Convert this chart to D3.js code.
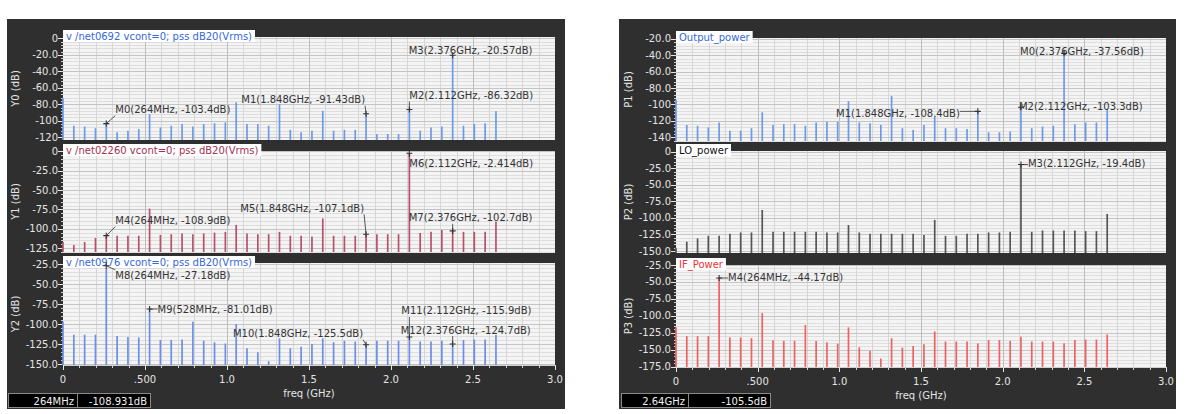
<!DOCTYPE html>
<html>
<head>
<meta charset="utf-8">
<script src="https://cdn.jsdelivr.net/npm/d3@7"></script>
<style>
body { margin: 0; background: #fff; }
svg text { font-family: "DejaVu Sans", sans-serif; }
</style>
</head>
<body>
<svg id="chart" width="1190" height="414"></svg>
<script>
// harmonic grid in GHz (66 MHz steps, DC .. 2.64 GHz)
var freqs = [0, 0.066, 0.132, 0.198, 0.264, 0.33, 0.396, 0.462, 0.528, 0.594,
    0.66, 0.726, 0.792, 0.858, 0.924, 0.99, 1.056, 1.122, 1.188, 1.254,
    1.32, 1.386, 1.452, 1.518, 1.584, 1.65, 1.716, 1.782, 1.848, 1.914,
    1.98, 2.046, 2.112, 2.178, 2.244, 2.31, 2.376, 2.442, 2.508, 2.574, 2.64];

// left window: pss dB20(Vrms)
var y0Values = [-72.7, -106, -107, -109, -103.4, -114, -112, -110, -92, -108,
    -106, -104, -107, -104, -103, -102, -77.6, -104, -104, -106,
    -80, -111, -114, -112, -88, -112, -111, -111, -91.43, -116,
    -116, -116, -86.32, -112, -108, -107, -20.57, -106, -104, -103, -88];
var y1Values = [-117, -121, -117, -112, -108.9, -109, -109, -109, -74, -108,
    -107, -106, -107, -106, -105, -104, -95, -106, -107, -107,
    -104, -109, -109, -110, -86.7, -109, -109, -109, -107.1, -107,
    -107, -107, -2.414, -105.5, -104, -101.7, -102.7, -104, -104, -104, -91];
var y2Values = [-96.8, -113, -113, -113, -27.18, -114.6, -116, -116.5, -81.01, -119.6,
    -119.6, -119, -96.8, -120.5, -122.5, -124, -99.7, -130, -135, -146,
    -117.6, -130, -128, -124.6, -117.6, -122.5, -120.5, -121.5, -125.5, -120.5,
    -120.5, -120.5, -115.9, -121.5, -121.5, -120.5, -124.7, -119.6, -119, -119, -113.4];

// right window: powers
var p1Values = [-94, -125, -126, -128, -122, -132, -132, -129, -109.5, -125,
    -124, -124, -126, -122, -121, -121, -96, -122, -123, -125,
    -89.6, -129, -131, -125, -115, -129, -129, -130, -108.4, -134,
    -134, -133, -103.3, -129, -127, -126, -37.56, -124, -122, -122, -105.5];
var p2Values = [-145, -136, -131, -127, -127, -124, -122, -122, -88, -121,
    -121, -121, -121, -121, -122, -122, -110.7, -122, -124, -124,
    -124, -124, -124, -126, -103, -127, -127, -124, -124, -122,
    -122, -121, -19.4, -121, -119, -119, -119, -119, -120, -120, -94];
var p3Values = [-117, -130, -130, -130, -44.17, -132, -132, -133, -96, -136,
    -137, -137, -113.6, -137, -139, -141, -117, -146.5, -152, -163,
    -133, -147, -144.5, -142, -123, -138, -138, -138, -140.6, -135.7,
    -135.7, -137, -131, -138, -138, -138, -140.6, -135.7, -135, -135, -127.5];

// y tick values and their labels
var y0Ticks = [0, -20, -40, -60, -80, -100, -120];
var y0TickLabels = ["0", "-20.0", "-40.0", "-60.0", "-80.0", "-100", "-120"];
var y1Ticks = [0, -25, -50, -75, -100, -125];
var y1TickLabels = ["0", "-25.0", "-50.0", "-75.0", "-100.0", "-125.0"];
var y2Ticks = [-25, -50, -75, -100, -125, -150];
var y2TickLabels = ["-25.0", "-50.0", "-75.0", "-100.0", "-125.0", "-150.0"];
var p1Ticks = [-20, -40, -60, -80, -100, -120, -140];
var p1TickLabels = ["-20.0", "-40.0", "-60.0", "-80.0", "-100", "-120", "-140"];
var p2Ticks = [0, -25, -50, -75, -100, -125, -150];
var p2TickLabels = ["0", "-25.0", "-50.0", "-75.0", "-100.0", "-125.0", "-150.0"];
var p3Ticks = [-25, -50, -75, -100, -125, -150, -175];
var p3TickLabels = ["-25.0", "-50.0", "-75.0", "-100.0", "-125.0", "-150.0", "-175.0"];

var xTicks = [0, 0.5, 1.0, 1.5, 2.0, 2.5, 3.0];
var xTickLabels = ["0", ".500", "1.0", "1.5", "2.0", "2.5", "3.0"];

// markers
var y0MarkerNames = ["M0", "M1", "M2", "M3"];
var y0MarkerFreqs = [0.264, 1.848, 2.112, 2.376];
var y0MarkerValues = [-103.4, -91.43, -86.32, -20.57];
var y1MarkerNames = ["M4", "M5", "M6", "M7"];
var y1MarkerFreqs = [0.264, 1.848, 2.112, 2.376];
var y1MarkerValues = [-108.9, -107.1, -2.414, -102.7];
var y2MarkerNames = ["M8", "M9", "M10", "M11", "M12"];
var y2MarkerFreqs = [0.264, 0.528, 1.848, 2.112, 2.376];
var y2MarkerValues = [-27.18, -81.01, -125.5, -115.9, -124.7];
var p1MarkerNames = ["M0", "M1", "M2"];
var p1MarkerFreqs = [2.376, 1.848, 2.112];
var p1MarkerValues = [-37.56, -108.4, -103.3];
var p2MarkerNames = ["M3"];
var p2MarkerFreqs = [2.112];
var p2MarkerValues = [-19.4];
var p3MarkerNames = ["M4"];
var p3MarkerFreqs = [0.264];
var p3MarkerValues = [-44.17];

// label placement relative to the marked point (pixels)
var labelLayout = {
    "Y0:M0": { dx: 9, dy: -14, anchor: "start" },
    "Y0:M1": { dx: -1, dy: -14, anchor: "end" },
    "Y0:M2": { dx: 0, dy: -14, anchor: "start" },
    "Y0:M3": { dx: -44, dy: -5, anchor: "start" },
    "Y1:M4": { dx: 9, dy: -15, anchor: "start" },
    "Y1:M5": { dx: -2, dy: -26, anchor: "end" },
    "Y1:M6": { dx: 0, dy: 10, anchor: "start" },
    "Y1:M7": { dx: -44, dy: -13, anchor: "start" },
    "Y2:M8": { dx: 9, dy: 10, anchor: "start" },
    "Y2:M9": { dx: 8, dy: 1, anchor: "start" },
    "Y2:M10": { dx: -3, dy: -11, anchor: "end" },
    "Y2:M11": { dx: -8, dy: -26, anchor: "start" },
    "Y2:M12": { dx: -52, dy: -14, anchor: "start" },
    "P1:M0": { dx: -44, dy: -2, anchor: "start" },
    "P1:M1": { dx: -18, dy: 2, anchor: "end" },
    "P1:M2": { dx: -2, dy: -1, anchor: "start" },
    "P2:M3": { dx: 7, dy: -1, anchor: "start" },
    "P3:M4": { dx: 9, dy: 0, anchor: "start" }
};

function makePlot(id, title, titleColor, color, values, ticks, tickLabels, names, mfreqs, mvalues) {
    return { id: id, title: title, titleColor: titleColor, color: color, values: values,
        ticks: ticks, tickLabels: tickLabels,
        markers: names.map(function (n, i) { return { name: n, f: mfreqs[i], v: mvalues[i] }; }) };
}

var panels = [
    {
        frame: [7, 19, 565, 409], x0: 63, x1: 555, yLabelX: 19,
        status: ["264MHz", "-108.931dB"], statusEdges: [8, 77, 150],
        plots: [
            makePlot("Y0", "v /net0692 vcont=0; pss dB20(Vrms)", "#3468dc", "#6b9be8", y0Values, y0Ticks, y0TickLabels, y0MarkerNames, y0MarkerFreqs, y0MarkerValues),
            makePlot("Y1", "v /net02260 vcont=0; pss dB20(Vrms)", "#a3304f", "#b8506c", y1Values, y1Ticks, y1TickLabels, y1MarkerNames, y1MarkerFreqs, y1MarkerValues),
            makePlot("Y2", "v /net0976 vcont=0; pss dB20(Vrms)", "#3468dc", "#6b8ee8", y2Values, y2Ticks, y2TickLabels, y2MarkerNames, y2MarkerFreqs, y2MarkerValues)
        ],
        boxes: [{ top: 37, bottom: 140, domain: [-123.3, 1.6] }, { top: 151, bottom: 252, domain: [-130, 0.4] }, { top: 263, bottom: 365, domain: [-150.8, -23.7] }]
    },
    {
        frame: [619, 19, 1176, 409], x0: 676, x1: 1166, yLabelX: 632,
        status: ["2.64GHz", "-105.5dB"], statusEdges: [621, 688, 770],
        plots: [
            makePlot("P1", "Output_power", "#3468dc", "#6b9be8", p1Values, p1Ticks, p1TickLabels, p1MarkerNames, p1MarkerFreqs, p1MarkerValues),
            makePlot("P2", "LO_power", "#111", "#555", p2Values, p2Ticks, p2TickLabels, p2MarkerNames, p2MarkerFreqs, p2MarkerValues),
            makePlot("P3", "IF_Power", "#ee3333", "#f06262", p3Values, p3Ticks, p3TickLabels, p3MarkerNames, p3MarkerFreqs, p3MarkerValues)
        ],
        boxes: [{ top: 38, bottom: 141, domain: [-144.6, -18.8] }, { top: 151, bottom: 253, domain: [-153, 1] }, { top: 265, bottom: 367, domain: [-175.5, -25] }]
    }
];

var svg = d3.select("#chart");
var fmt4 = d3.format(".4~g");

function fmtVal(v) {
    return fmt4(v).replace("\u2212", "-");
}

function fmtFreq(f) {
    return f < 1 ? Math.round(f * 1000) + "MHz" : f.toFixed(3) + "GHz";
}

panels.forEach(function (panel) {
    var g = svg.append("g");
    var fr = panel.frame;
    g.append("rect").attr("x", fr[0]).attr("y", fr[1]).attr("width", fr[2] - fr[0]).attr("height", fr[3] - fr[1])
        .attr("fill", "#2f2f2f");

    var x = d3.scaleLinear().domain([0, 3]).range([panel.x0, panel.x1]);

    panel.plots.forEach(function (p, pi) {
        var box = panel.boxes[pi];
        var y = d3.scaleLinear().domain(box.domain).range([box.bottom, box.top]);
        var pg = g.append("g");

        pg.append("rect").attr("x", panel.x0).attr("y", box.top)
            .attr("width", panel.x1 - panel.x0).attr("height", box.bottom - box.top)
            .attr("fill", "#f4f4f4");

        // horizontal grid: minor then major
        var step = p.ticks[0] - p.ticks[1];
        var minorStep = step / 5;
        var minorVals = d3.range(Math.ceil(box.domain[0] / minorStep) * minorStep, box.domain[1], minorStep);
        pg.selectAll("line.hminor").data(minorVals).enter().append("line")
            .attr("x1", panel.x0).attr("x2", panel.x1)
            .attr("y1", function (d) { return Math.round(y(d)) + 0.5; })
            .attr("y2", function (d) { return Math.round(y(d)) + 0.5; })
            .attr("stroke", "#dedede").attr("stroke-width", 1);
        // vertical grid
        var vminor = d3.range(0.1, 3, 0.1);
        pg.selectAll("line.vminor").data(vminor).enter().append("line")
            .attr("x1", function (d) { return Math.round(x(d)) + 0.5; })
            .attr("x2", function (d) { return Math.round(x(d)) + 0.5; })
            .attr("y1", box.top).attr("y2", box.bottom)
            .attr("stroke", function (d) { return Math.abs(d * 2 - Math.round(d * 2)) < 1e-6 ? "#bdbdbd" : "#d6d6d6"; })
            .attr("stroke-width", 1);
        pg.selectAll("line.hmajor").data(p.ticks).enter().append("line")
            .attr("x1", panel.x0).attr("x2", panel.x1)
            .attr("y1", function (d) { return Math.round(y(d)) + 0.5; })
            .attr("y2", function (d) { return Math.round(y(d)) + 0.5; })
            .attr("stroke", "#c4c4c4").attr("stroke-width", 1);

        // y axis ticks and labels
        pg.selectAll("line.yminortick").data(minorVals).enter().append("line")
            .attr("x1", panel.x0 - 2).attr("x2", panel.x0)
            .attr("y1", function (d) { return Math.round(y(d)) + 0.5; })
            .attr("y2", function (d) { return Math.round(y(d)) + 0.5; })
            .attr("stroke", "#cfcfcf");
        pg.selectAll("line.ytick").data(p.ticks).enter().append("line")
            .attr("x1", panel.x0 - 5).attr("x2", panel.x0)
            .attr("y1", function (d) { return Math.round(y(d)) + 0.5; })
            .attr("y2", function (d) { return Math.round(y(d)) + 0.5; })
            .attr("stroke", "#e6e6e6");
        pg.selectAll("text.ytick").data(p.ticks).enter().append("text")
            .attr("x", panel.x0 - 5).attr("y", function (d) { return y(d) + 3.5; })
            .attr("text-anchor", "end").attr("font-size", 10).attr("fill", "#e4e4e4")
            .text(function (d, i) { return p.tickLabels[i]; });
        pg.append("text")
            .attr("transform", "translate(" + panel.yLabelX + "," + ((box.top + box.bottom) / 2) + ") rotate(-90)")
            .attr("text-anchor", "middle").attr("font-size", 10).attr("fill", "#e4e4e4")
            .text(p.id + " (dB)");

        // spectral lines
        pg.selectAll("line.bar").data(p.values).enter().append("line")
            .attr("x1", function (d, i) { return x(freqs[i]); })
            .attr("x2", function (d, i) { return x(freqs[i]); })
            .attr("y1", box.bottom)
            .attr("y2", function (d) { return y(Math.max(d, box.domain[0])); })
            .attr("stroke", p.color).attr("stroke-width", 1.7);

        // trace title
        var tt = pg.append("g");
        var tbg = tt.append("rect").attr("fill", "#fff");
        var ttxt = tt.append("text").attr("x", panel.x0 + 3).attr("y", box.top + 2.5)
            .attr("font-size", 10).attr("fill", p.titleColor).text(p.title);
        var tw = ttxt.node().getComputedTextLength();
        tbg.attr("x", panel.x0).attr("y", box.top - 7).attr("width", tw + 6).attr("height", 12);

        // markers
        p.markers.forEach(function (m) {
            var lay = labelLayout[p.id + ":" + m.name];
            var px = x(m.f), py = y(m.v);
            var mg = pg.append("g");
            var label = mg.append("text").attr("x", px + lay.dx).attr("y", py + lay.dy + 3.5)
                .attr("text-anchor", lay.anchor).attr("font-size", 10).attr("fill", "#333")
                .text(m.name + "(" + fmtFreq(m.f) + ", " + fmtVal(m.v) + "dB)");
            var w = label.node().getComputedTextLength();
            var bx0 = lay.anchor === "end" ? px + lay.dx - w : px + lay.dx;
            var bx1 = bx0 + w;
            var by0 = py + lay.dy - 6, by1 = py + lay.dy + 6;
            var lx = Math.max(bx0, Math.min(bx1, px));
            var ly = Math.max(by0, Math.min(by1, py));
            if (Math.abs(lx - px) + Math.abs(ly - py) > 1) {
                mg.append("line").attr("x1", px).attr("y1", py).attr("x2", lx).attr("y2", ly)
                    .attr("stroke", "#444").attr("stroke-width", 0.9);
            }
            mg.append("path").attr("d", "M" + (px - 3) + "," + py + "H" + (px + 3) + "M" + px + "," + (py - 3) + "V" + (py + 3))
                .attr("stroke", "#333").attr("stroke-width", 1.1);
        });

        // x axis on the last strip
        if (pi === panel.plots.length - 1) {
            var ag = g.append("g");
            ag.append("line").attr("x1", panel.x0).attr("x2", panel.x1)
                .attr("y1", box.bottom + 0.5).attr("y2", box.bottom + 0.5).attr("stroke", "#d0d0d0");
            ag.selectAll("line.xminor").data(d3.range(0.1, 3, 0.1)).enter().append("line")
                .attr("x1", function (d) { return Math.round(x(d)) + 0.5; })
                .attr("x2", function (d) { return Math.round(x(d)) + 0.5; })
                .attr("y1", box.bottom).attr("y2", box.bottom + 3).attr("stroke", "#d0d0d0");
            ag.selectAll("line.xmajor").data(xTicks).enter().append("line")
                .attr("x1", function (d) { return Math.round(x(d)) + 0.5; })
                .attr("x2", function (d) { return Math.round(x(d)) + 0.5; })
                .attr("y1", box.bottom).attr("y2", box.bottom + 5).attr("stroke", "#e6e6e6");
            ag.selectAll("text.xtick").data(xTicks).enter().append("text")
                .attr("x", function (d) { return x(d); }).attr("y", box.bottom + 18)
                .attr("text-anchor", "middle").attr("font-size", 10).attr("fill", "#e4e4e4")
                .text(function (d, i) { return xTickLabels[i]; });
            ag.append("text").attr("x", (panel.x0 + panel.x1) / 2).attr("y", box.bottom + 32)
                .attr("text-anchor", "middle").attr("font-size", 10).attr("fill", "#e4e4e4")
                .text("freq (GHz)");
        }
    });

    // cursor readout boxes
    var se = panel.statusEdges;
    [0, 1].forEach(function (i) {
        g.append("rect").attr("x", se[i] + 0.5).attr("y", 393.5).attr("width", se[i + 1] - se[i]).attr("height", 14)
            .attr("fill", "#000").attr("stroke", "#8a8a8a");
        g.append("text").attr("x", se[i + 1] - 3).attr("y", 404.5).attr("text-anchor", "end")
            .attr("font-size", 10).attr("fill", "#f0f0f0").text(panel.status[i]);
    });
});
</script>
</body>
</html>
